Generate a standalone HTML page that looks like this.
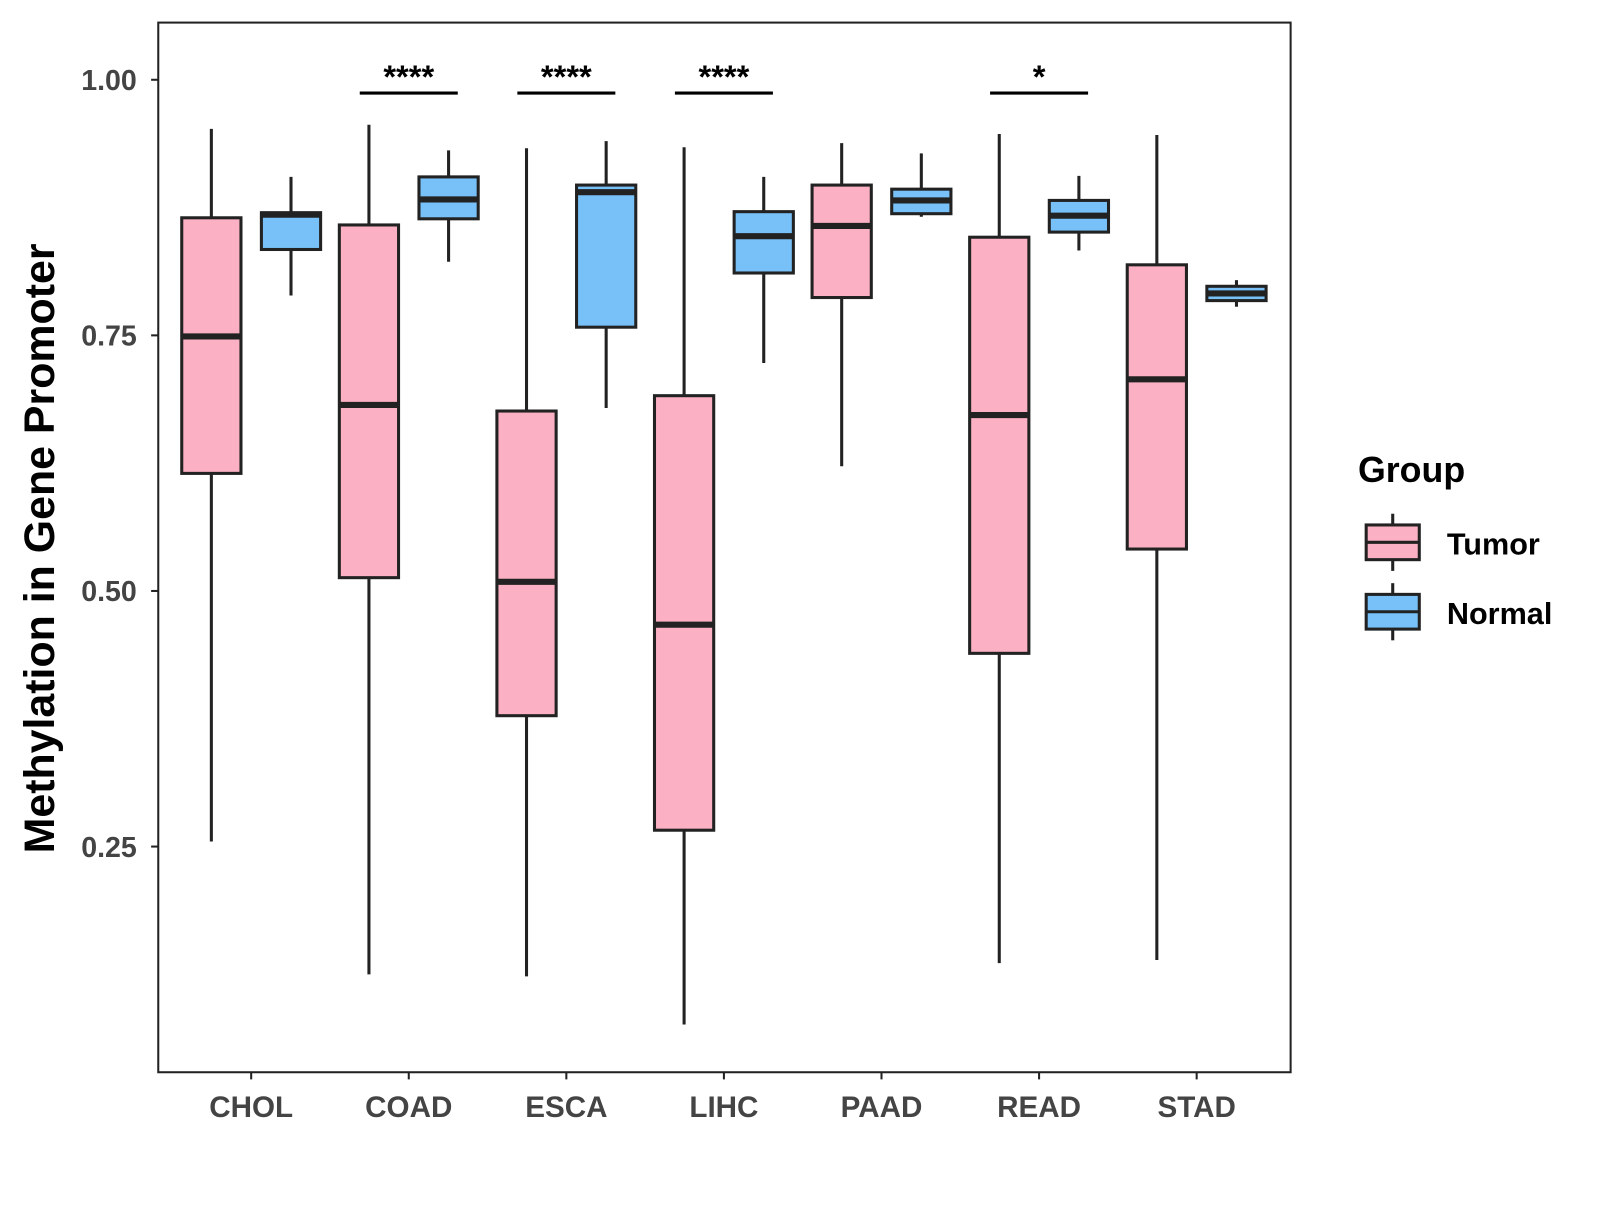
<!DOCTYPE html>
<html><head><meta charset="utf-8"><style>
body{margin:0;background:#fff}
text{font-family:"Liberation Sans",Arial,sans-serif;font-weight:bold}
</style></head><body>
<svg id="chart" width="1600" height="1200" viewBox="0 0 1567 1175" xmlns="http://www.w3.org/2000/svg">
<rect width="1567" height="1175" fill="#fff"/>
<rect x="155" y="22" width="1109" height="1028" fill="none" stroke="#222" stroke-width="2"/>
<g id="marks"></g>
<text transform="translate(53,537) rotate(-90)" text-anchor="middle" font-size="42" fill="#000">Methylation in Gene Promoter</text>
<g>
<text x="1330" y="472" font-size="35" fill="#000">Group</text>
<g>
<line x1="1364" y1="503" x2="1364" y2="559" stroke="#222" stroke-width="3"/>
<rect x="1338" y="514" width="52" height="34" fill="#FBB1C3" stroke="#222" stroke-width="3"/>
<line x1="1338" y1="531" x2="1390" y2="531" stroke="#222" stroke-width="3"/>
<text x="1417" y="543" font-size="30" fill="#000">Tumor</text></g>
<g>
<line x1="1364" y1="571" x2="1364" y2="627" stroke="#222" stroke-width="3"/>
<rect x="1338" y="582" width="52" height="34" fill="#77C1F8" stroke="#222" stroke-width="3"/>
<line x1="1338" y1="599" x2="1390" y2="599" stroke="#222" stroke-width="3"/>
<text x="1417" y="611" font-size="30" fill="#000">Normal</text></g>
</g>
</svg>
<script>
const categories=["CHOL","COAD","ESCA","LIHC","PAAD","READ","STAD"];
const tumorStats=[[0.255,0.615,0.749,0.865,0.952],[0.125,0.513,0.682,0.858,0.956],[0.123,0.378,0.509,0.676,0.933],[0.076,0.266,0.467,0.691,0.934],[0.622,0.787,0.857,0.897,0.938],[0.136,0.439,0.672,0.846,0.947],[0.139,0.541,0.707,0.819,0.946]];
const normalStats=[[0.789,0.834,0.868,0.870,0.905],[0.822,0.864,0.883,0.905,0.931],[0.679,0.758,0.890,0.897,0.940],[0.723,0.811,0.847,0.871,0.905],[0.866,0.869,0.882,0.893,0.928],[0.833,0.851,0.867,0.882,0.906],[0.778,0.784,0.791,0.798,0.804]];
const yTicks=[0.25,0.5,0.75,1.0];
const yTickLabels=["0.25","0.50","0.75","1.00"];
const sigLabels=["","****","****","****","","*",""];
const NS="http://www.w3.org/2000/svg";
const g=document.getElementById("marks");
const y=v=>78+(1-v)*1001.3;
const x=i=>246+i*154.33;
function mk(tag,a,p){const e=document.createElementNS(NS,tag);for(const k in a)e.setAttribute(k,a[k]);(p||g).appendChild(e);return e;}
yTicks.forEach((t,i)=>{
 const l=mk("line",{x1:148,x2:155,y1:y(t),y2:y(t),stroke:"#222","stroke-width":2});
 
 
 const tx=mk("text",{x:134,y:y(t)+10,"text-anchor":"end","font-size":28,fill:"#444"});
 tx.textContent=yTickLabels[i];
 
 
});
categories.forEach((c,i)=>{
 const l=mk("line",{x1:x(i),x2:x(i),y1:1050,y2:1057,stroke:"#222","stroke-width":2});
 
 
 const tx=mk("text",{x:x(i),y:1094,"text-anchor":"middle","font-size":29,fill:"#444"});
 tx.textContent=c;
 
 
 [[tumorStats[i],-39,"#FBB1C3","tumor"],[normalStats[i],39,"#77C1F8","normal"]].forEach(([s,off,col,nm])=>{
  const cx=x(i)+off;
  const bg=mk("g",{});
  
  
  mk("line",{x1:cx,x2:cx,y1:y(s[4]),y2:y(s[0]),stroke:"#222","stroke-width":3},bg);
  mk("rect",{x:cx-29,y:y(s[3]),width:58,height:y(s[1])-y(s[3]),fill:col,stroke:"#222","stroke-width":3},bg);
  mk("line",{x1:cx-29,x2:cx+29,y1:y(s[2]),y2:y(s[2]),stroke:"#222","stroke-width":6},bg);
 });
 if(sigLabels[i]){
  const sl=mk("line",{x1:x(i)-48,x2:x(i)+48,y1:91,y2:91,stroke:"#000","stroke-width":3});
  
  
  const st=mk("text",{x:x(i),y:86,"text-anchor":"middle","font-size":32,fill:"#000"});
  st.textContent=sigLabels[i];
  
  
 }
});
</script>
</body></html>
